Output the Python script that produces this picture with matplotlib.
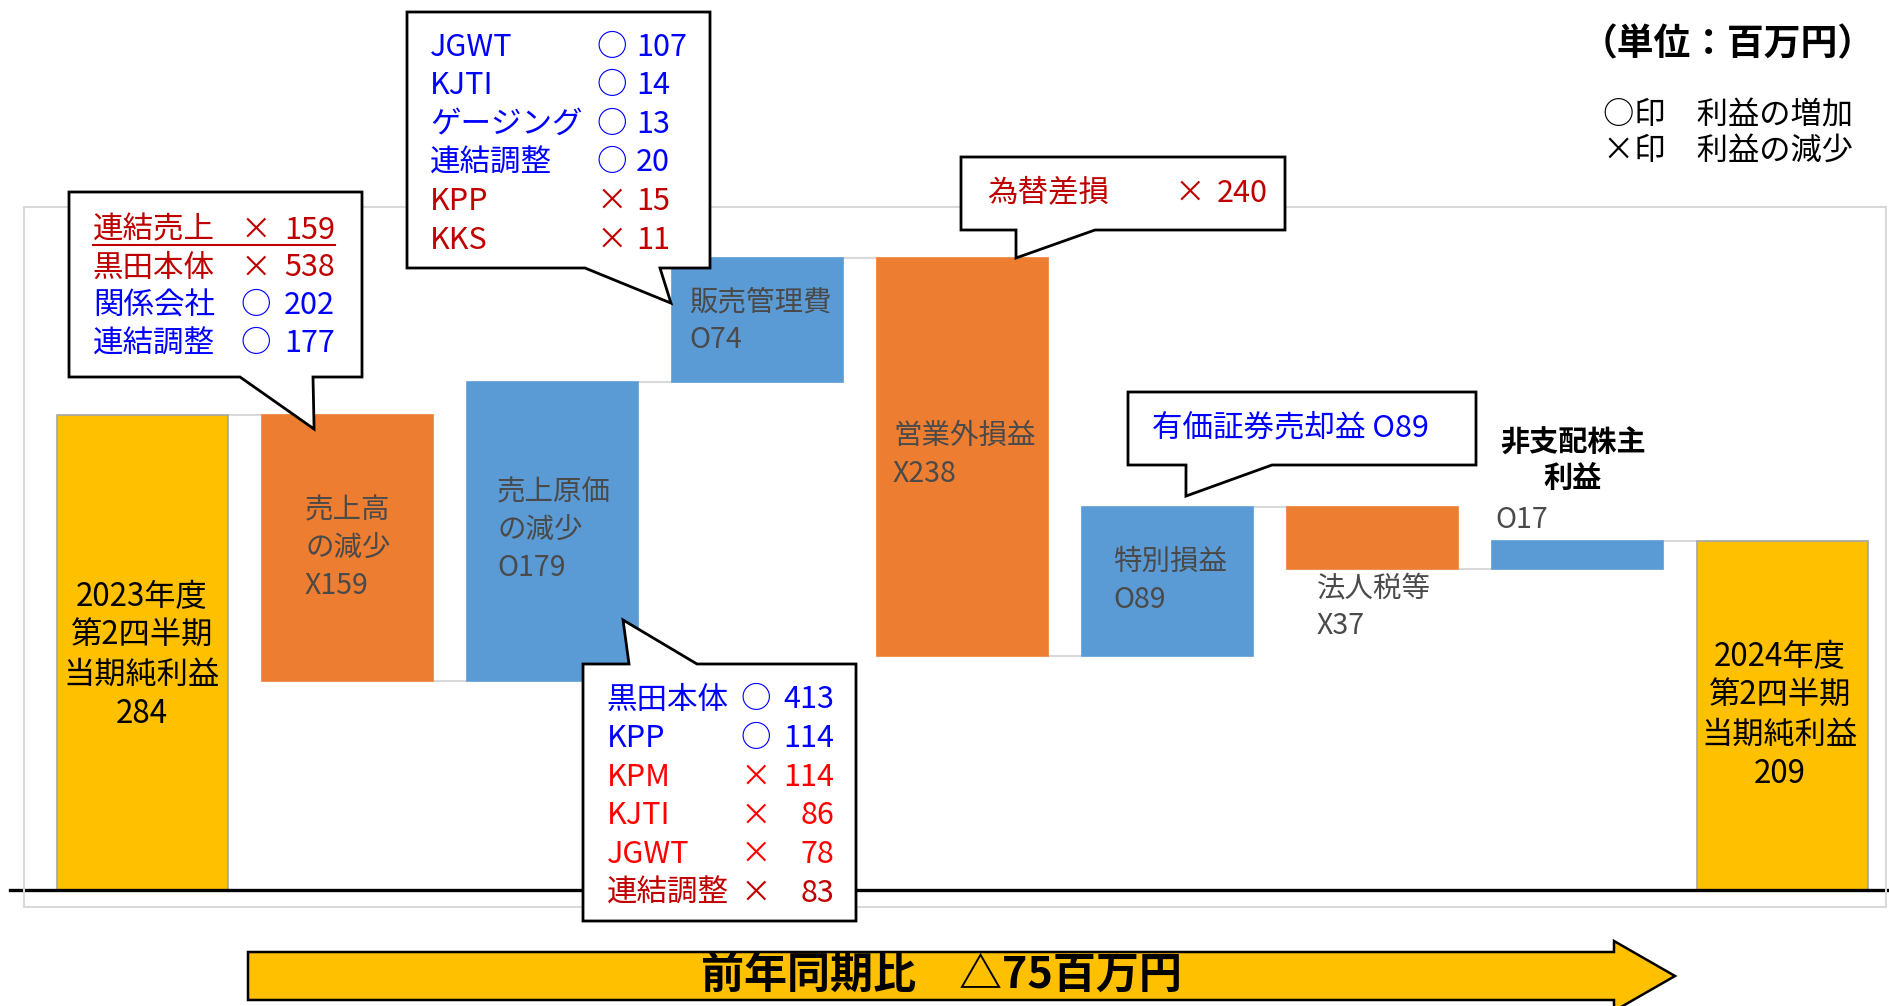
import matplotlib
matplotlib.use('Agg')
import matplotlib.pyplot as plt
from matplotlib.patches import Polygon, Rectangle

plt.rcParams['font.family'] = ['Noto Sans CJK JP', 'DejaVu Sans']

W, H = 1890, 1006

# ---- data ----
steps = ['2023年度', '売上高', '売上原価', '販売管理費', '営業外損益',
         '特別損益', '法人税等', '非支配株主利益', '2024年度']
changes = [284, -159, 179, 74, -238, 89, -37, 17, 209]
is_total = [True, False, False, False, False, False, False, False, True]

total_labels = [['2023年度', '第2四半期', '当期純利益', '284'],
                ['2024年度', '第2四半期', '当期純利益', '209']]
step_labels = [['売上高', 'の減少', 'X159'],
               ['売上原価', 'の減少', 'O179'],
               ['販売管理費', 'O74'],
               ['営業外損益', 'X238'],
               ['特別損益', 'O89'],
               ['法人税等', 'X37']]

c1_names = ['連結売上', '黒田本体', '関係会社', '連結調整']
c1_signs = ['×', '×', '○', '○']
c1_vals = ['159', '538', '202', '177']

c2_names = ['JGWT', 'KJTI', 'ゲージング', '連結調整', 'KPP', 'KKS']
c2_signs = ['○', '○', '○', '○', '×', '×']
c2_vals = ['107', '14', '13', '20', '15', '11']

c3_names = ['黒田本体', 'KPP', 'KPM', 'KJTI', 'JGWT', '連結調整']
c3_signs = ['○', '○', '×', '×', '×', '×']
c3_vals = ['413', '114', '114', '86', '78', '83']

fx_loss = ('為替差損', '×', '240')
sec_gain = '有価証券売却益 O89'

ORANGE, BLUE, GOLD = '#ED7D31', '#5B9BD5', '#FFC000'
RED, DRED, PBLUE = '#FF0000', '#C00000', '#0000FF'
GRAY_TXT = '#4a4a4a'

# ---- waterfall geometry ----
bottoms, heights, colors, levels = [], [], [], []
level = 0
for v, tot in zip(changes, is_total):
    if tot:
        bottoms.append(0)
        heights.append(v)
        colors.append(GOLD)
        level = v
    else:
        bottoms.append(min(level, level + v))
        heights.append(abs(v))
        colors.append(BLUE if v > 0 else ORANGE)
        level += v
    levels.append(level)

fig = plt.figure(figsize=(W / 100, H / 100), dpi=100)
ax = fig.add_axes([0, 0, 1, 1])
PX0, STEP, BASE, PPU = 142.5, 205.0, 890.0, 1.672
ax.set_xlim(-PX0 / STEP, (W - PX0) / STEP)
ax.set_ylim((BASE - H) / PPU, BASE / PPU)
ax.axis('off')

xs = list(range(len(steps)))
bw = 171 / STEP
edges = ['#A6A6A6' if t else c for t, c in zip(is_total, colors)]
ax.bar(xs, heights, bottom=bottoms, width=bw, color=colors,
       edgecolor=edges, linewidth=1.2, zorder=3)

# connectors
for i in range(len(steps) - 1):
    ax.hlines(levels[i], i + bw / 2, i + 1 - bw / 2, color='#D9D9D9', lw=1.5, zorder=2)

ax.axhline(0, xmin=10 / W, xmax=1, color='black', lw=2.4, zorder=4)

# ---- overlay in pixel coords ----
ov = fig.add_axes([0, 0, 1, 1])
ov.set_xlim(0, W)
ov.set_ylim(H, 0)
ov.axis('off')
ov.patch.set_visible(False)

ov.add_patch(Rectangle((24, 207), 1862, 700, fill=False, edgecolor='#D9D9D9', lw=1.5, zorder=0))


def tip_px(x, v):
    return ov.transData.inverted().transform(ax.transData.transform((x, v)))


def callout(box, base, tip, pointer='bottom'):
    x0, y0, x1, y1 = box
    bx0, bx1 = base
    tx, ty = tip_px(*tip)
    if pointer == 'bottom':
        pts = [(x0, y0), (x1, y0), (x1, y1), (bx1, y1), (tx, ty), (bx0, y1), (x0, y1)]
    else:
        pts = [(x0, y0), (bx0, y0), (tx, ty), (bx1, y0), (x1, y0), (x1, y1), (x0, y1)]
    ov.add_patch(Polygon(pts, closed=True, facecolor='white', edgecolor='black',
                         lw=2, zorder=5, joinstyle='miter'))


FS = 22
# callout 1
callout((69, 192, 362, 377), (240, 313), (0.837, 275.7))
for i, (n, s, v) in enumerate(zip(c1_names, c1_signs, c1_vals)):
    y = 230 + 38 * i
    col = DRED if s == '×' else PBLUE
    ov.text(93, y, n, fontsize=FS, color=col, va='center', ha='left', zorder=6)
    ov.text(256, y, s, fontsize=FS, color=col, va='center', ha='center', zorder=6)
    ov.text(335, y, v, fontsize=FS, color=col, va='center', ha='right', zorder=6)
ov.plot([93, 335], [245, 245], color=DRED, lw=1.5, zorder=6)

# callout 2
callout((407, 12, 710, 268), (585, 660), (2.578, 351))
for i, (n, s, v) in enumerate(zip(c2_names, c2_signs, c2_vals)):
    y = 47 + 38.6 * i
    col = DRED if s == '×' else PBLUE
    ov.text(430, y, n, fontsize=FS, color=col, va='center', ha='left', zorder=6)
    ov.text(612, y, s, fontsize=FS, color=col, va='center', ha='center', zorder=6)
    ov.text(636, y, v, fontsize=FS, color=col, va='center', ha='left', zorder=6)

# callout 3
callout((583, 664, 856, 921), (629, 697), (2.344, 161.5), pointer='top')
for i, (n, s, v) in enumerate(zip(c3_names, c3_signs, c3_vals)):
    y = 700 + 38.6 * i
    col = PBLUE if s == '○' else (DRED if i == len(c3_names) - 1 else RED)
    ov.text(607, y, n, fontsize=FS, color=col, va='center', ha='left', zorder=6)
    ov.text(756, y, s, fontsize=FS, color=col, va='center', ha='center', zorder=6)
    ov.text(834, y, v, fontsize=FS, color=col, va='center', ha='right', zorder=6)

# callout 4
callout((961, 157, 1285, 230), (1016, 1095), (4.261, 378))
ov.text(987, 193, fx_loss[0], fontsize=FS, color=DRED, va='center', ha='left', zorder=6)
ov.text(1190, 193, fx_loss[1], fontsize=FS, color=DRED, va='center', ha='center', zorder=6)
ov.text(1268, 193, fx_loss[2], fontsize=FS, color=DRED, va='center', ha='right', zorder=6)

# callout 5
callout((1128, 392, 1476, 465), (1186, 1272), (5.090, 235.6))
ov.text(1152, 428, sec_gain, fontsize=FS, color=PBLUE, va='center', ha='left', zorder=6)

# ---- bar labels ----
for lines, cx in zip(total_labels, [142, 1780]):
    y0 = 597 if cx < 500 else 657
    for j, t in enumerate(lines):
        ov.text(cx, y0 + 39 * j, t, fontsize=22.5, color='black', ha='center', va='center', zorder=3)

label_pos = [(305, 510), (497, 492), (689, 302), (893, 436), (1113, 562), (1317, 588)]
for lines, (lx, ly) in zip(step_labels, label_pos):
    for j, t in enumerate(lines):
        ov.text(lx, ly + 38 * j, t, fontsize=20.5, color=GRAY_TXT, ha='left', va='center', zorder=3)

ov.text(1573, 443, '非支配株主', fontsize=21, fontweight='bold', ha='center', va='center')
ov.text(1573, 478, '利益', fontsize=21, fontweight='bold', ha='center', va='center')
ov.text(1495, 520, 'O17', fontsize=20.5, color=GRAY_TXT, ha='left', va='center')

# ---- legend (top right) ----
ov.text(1728, 45, '（単位：百万円）', fontsize=26.5, fontweight='bold', ha='center', va='center')
ov.text(1603, 115, '○印　利益の増加', fontsize=22.5, ha='left', va='center')
ov.text(1603, 151, '×印　利益の減少', fontsize=22.5, ha='left', va='center')

# ---- bottom arrow ----
arrow = [(248, 952), (1614, 952), (1614, 941), (1675, 976), (1614, 1011), (1614, 1000), (248, 1000)]
ov.add_patch(Polygon(arrow, closed=True, facecolor=GOLD, edgecolor='black', lw=1.8, zorder=5))
ov.text(941, 976, '前年同期比　△75百万円', fontsize=31, fontweight='bold',
        ha='center', va='center', zorder=6)

fig.savefig('out.png', dpi=100)
